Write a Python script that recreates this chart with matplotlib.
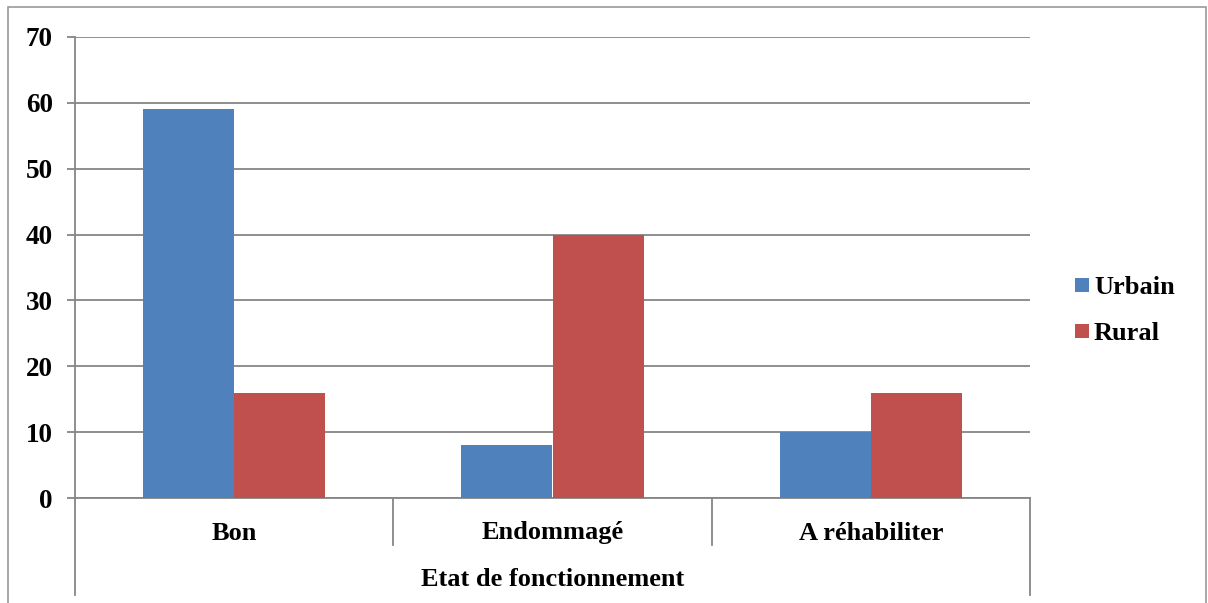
import numpy as np
import matplotlib
matplotlib.use("Agg")
import matplotlib.pyplot as plt
from matplotlib.patches import Rectangle
from matplotlib.lines import Line2D

# data
categories = ["Bon", "Endommagé", "A réhabiliter"]
urbain = [59, 8, 10]
rural = [16, 40, 16]
series_names = ["Urbain", "Rural"]
axis_title = "Etat de fonctionnement"
yticks = [0, 10, 20, 30, 40, 50, 60, 70]

BLUE = "#4F81BD"
RED = "#C0504D"
GREY = "#868686"

W, H = 1208, 603
plt.rcParams["font.family"] = ["Liberation Serif", "DejaVu Serif"]
plt.rcParams["font.weight"] = "bold"

fig = plt.figure(figsize=(W / 100, H / 100), dpi=100)

# outer chart border
fig.patches.append(Rectangle((8 / W, -0.01), 1198 / W, (H - 7) / H + 0.01,
                             transform=fig.transFigure, fill=False,
                             edgecolor="#9a9a9a", linewidth=1.2))

left, right, top, bottom = 75, 1030, 37, 498
ax = fig.add_axes([left / W, (H - bottom) / H, (right - left) / W, (bottom - top) / H])

x = np.arange(len(categories))
bw = 0.286
ax.bar(x - bw / 2, urbain, width=bw, color=BLUE, zorder=3)
ax.bar(x + bw / 2, rural, width=bw, color=RED, zorder=3)

ax.set_xlim(-0.5, len(categories) - 0.5)
ax.set_ylim(0, 70)
ax.set_yticks(yticks)
ax.set_yticklabels([str(v) for v in yticks], fontsize=19.5, fontweight="bold")
ax.yaxis.grid(True, color=GREY, linewidth=1.3, zorder=0)
ax.tick_params(axis="y", direction="out", length=6, width=1.3, color=GREY, pad=10)
ax.set_xticks([])

for s in ["top", "right"]:
    ax.spines[s].set_visible(False)
for s in ["left", "bottom"]:
    ax.spines[s].set_color(GREY)
    ax.spines[s].set_linewidth(1.3)

# multi-level category axis: separators and labels
inner_y = -(545 - bottom) / (bottom - top)
outer_y = -(595 - bottom) / (bottom - top)
trans = ax.get_xaxis_transform()
seps = np.arange(len(categories) + 1) - 0.5
for i, sx in enumerate(seps):
    low = outer_y if i in (0, len(seps) - 1) else inner_y
    ax.add_line(Line2D([sx, sx], [0, low], transform=trans, color=GREY,
                       linewidth=1.3, clip_on=False))

lab_y = -(533 - bottom) / (bottom - top)
for xi, name in zip(x, categories):
    ax.text(xi, lab_y, name, transform=trans, ha="center", va="center",
            fontsize=19, fontweight="bold")
ax.text(0.5, -(579 - bottom) / (bottom - top), axis_title, transform=ax.transAxes,
        ha="center", va="center", fontsize=19, fontweight="bold")

# legend
for name, col, cy in zip(series_names, [BLUE, RED], [285, 331]):
    fig.patches.append(Rectangle((1075 / W, (H - cy - 7) / H), 14 / W, 14 / H,
                                 transform=fig.transFigure, facecolor=col,
                                 edgecolor="none"))
    fig.text(1094 / W, (H - cy - 2) / H, name, ha="left", va="center",
             fontsize=19, fontweight="bold")

fig.savefig("out.png", dpi=100)
